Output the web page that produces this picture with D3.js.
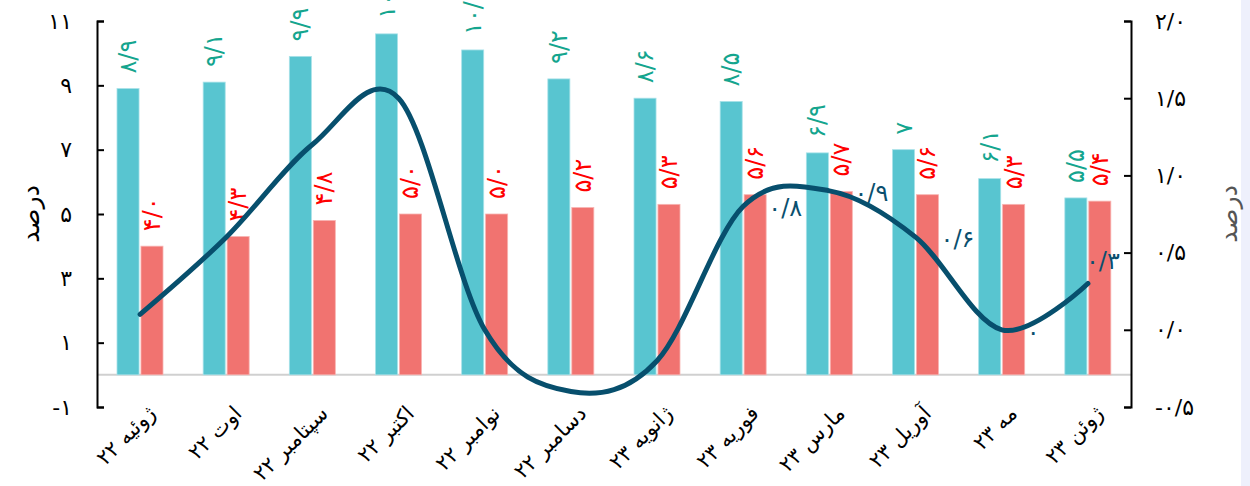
<!DOCTYPE html>
<html lang="fa">
<head>
<meta charset="utf-8">
<script src="https://cdn.jsdelivr.net/npm/d3@7"></script>
<style>
  html, body { margin: 0; padding: 0; background: #fff; }
  svg { display: block; font-family: "DejaVu Sans", sans-serif; }
</style>
</head>
<body>
<svg id="chart" width="1250" height="486"></svg>
<script>
// Monthly figures, July 2022 – June 2023
const months = ["ژوئیه ۲۲", "اوت ۲۲", "سپتامبر ۲۲", "اکتبر ۲۲", "نوامبر ۲۲", "دسامبر ۲۲",
                "ژانویه ۲۳", "فوریه ۲۳", "مارس ۲۳", "آوریل ۲۳", "مه ۲۳", "ژوئن ۲۳"];
const seriesA = [8.9, 9.1, 9.9, 10.6, 10.1, 9.2, 8.6, 8.5, 6.9, 7, 6.1, 5.5];     // left axis, teal bars
const seriesB = [4.0, 4.3, 4.8, 5.0, 5.0, 5.2, 5.3, 5.6, 5.7, 5.6, 5.3, 5.4];    // left axis, red bars
const seriesC = [0.1, 0.6, 1.2, 1.5, 0.0, -0.4, -0.2, 0.8, 0.9, 0.6, 0.0, 0.3];  // right axis, line
const leftTicks = [-1, 1, 3, 5, 7, 9, 11];
const rightTicks = [-0.5, 0, 0.5, 1.0, 1.5, 2.0];
const axisTitle = "درصد";

const faDigits = "۰۱۲۳۴۵۶۷۸۹";
const toFa = s => String(s).replace(/[0-9]/g, d => faDigits[+d]).replace(".", "/");
const fmt1 = v => toFa(v.toFixed(1));
const fmtPlain = v => toFa(v);
const fmtLine = v => v === 0 ? toFa("0") : fmt1(v);

const svg = d3.select("#chart");
const plotL = 97, plotR = 1131, plotT = 21, plotB = 407;

// Page margin strip on the far right
svg.append("rect").attr("x", 1241).attr("y", 0).attr("width", 9).attr("height", 486).attr("fill", "#eef0fc");

const x0 = d3.scaleBand().domain(months).range([plotL, plotR]).padding(0);
const x1 = d3.scaleBand().domain(["a", "b"]).range([20, 66]).paddingInner(0.08);
const yL = d3.scaleLinear().domain([-1, 11]).range([plotB, plotT]);
const yR = d3.scaleLinear().domain([-0.5, 2]).range([plotB, plotT]);

// Zero baseline
svg.append("line")
  .attr("x1", plotL).attr("x2", plotR)
  .attr("y1", yL(0)).attr("y2", yL(0))
  .attr("stroke", "#d0d0d0").attr("stroke-width", 2);

// Bars
const groups = svg.append("g").selectAll("g").data(months).join("g")
  .attr("transform", d => `translate(${x0(d)},0)`);

groups.append("rect")
  .attr("x", x1("a")).attr("width", x1.bandwidth())
  .attr("y", (d, i) => yL(seriesA[i]))
  .attr("height", (d, i) => yL(0) - yL(seriesA[i]))
  .attr("fill", "#58c5d0").attr("stroke", "#a8e2e8").attr("stroke-width", 0.8);

groups.append("rect")
  .attr("x", x1("b")).attr("width", x1.bandwidth())
  .attr("y", (d, i) => yL(seriesB[i]))
  .attr("height", (d, i) => yL(0) - yL(seriesB[i]))
  .attr("fill", "#f17370").attr("stroke", "#f8b4b2").attr("stroke-width", 0.8);

// Vertical value labels above bars
const barLabel = (key, values, color, format) => {
  groups.append("text")
    .attr("transform", (d, i) => `translate(${x1(key) + x1.bandwidth() / 2},${yL(values[i]) - 15}) rotate(-90)`)
    .attr("text-anchor", "start")
    .attr("dominant-baseline", "central")
    .attr("font-size", 24)
    .attr("letter-spacing", 2)
    .attr("fill", color)
    .text((d, i) => format(values[i]));
};
barLabel("a", seriesA, "#14a58e", fmtPlain);
barLabel("b", seriesB, "#ff0000", fmt1);

// Line on the right axis
const pts = months.map((m, i) => [x0(m) + x0.bandwidth() / 2, yR(seriesC[i])]);
svg.append("path")
  .attr("d", d3.line().curve(d3.curveCardinal.tension(0))(pts))
  .attr("fill", "none").attr("stroke", "#074f6d").attr("stroke-width", 5)
  .attr("stroke-linecap", "round").attr("stroke-linejoin", "round");

// Line value labels for the later months
const labelFrom = 7;
svg.append("g").selectAll("text")
  .data(pts.map((p, i) => ({ p, i })).filter(d => d.i >= labelFrom))
  .join("text")
  .attr("x", d => d.i === months.length - 1 ? d.p[0] - 2 : d.p[0] + 25)
  .attr("y", d => d.i === months.length - 1 ? d.p[1] - 22 : d.p[1] + 2)
  .attr("text-anchor", "start")
  .attr("dominant-baseline", "central")
  .attr("font-size", 24)
  .attr("letter-spacing", 2)
  .attr("fill", "#0a4f6e")
  .text(d => fmtLine(seriesC[d.i]));

// Axes
const axisL = d3.axisLeft(yL).tickValues(leftTicks).tickSizeInner(-7).tickSizeOuter(-7).tickPadding(25)
  .tickFormat(d => toFa(d));
const gL = svg.append("g").attr("transform", `translate(${plotL},0)`).call(axisL);
gL.select(".domain").attr("stroke", "#000").attr("stroke-width", 2);
gL.selectAll(".tick line").attr("stroke", "#000").attr("stroke-width", 2);
gL.selectAll(".tick text").attr("font-size", 22).attr("letter-spacing", 1).attr("fill", "#000").attr("font-family", "DejaVu Sans");

const axisR = d3.axisRight(yR).tickValues(rightTicks).tickSizeInner(-7).tickSizeOuter(-7).tickPadding(24)
  .tickFormat(d => fmt1(d));
const gR = svg.append("g").attr("transform", `translate(${plotR},0)`).call(axisR);
gR.select(".domain").attr("stroke", "#000").attr("stroke-width", 2);
gR.selectAll(".tick line").attr("stroke", "#000").attr("stroke-width", 2);
gR.selectAll(".tick text").attr("font-size", 22).attr("letter-spacing", 2).attr("fill", "#000").attr("font-family", "DejaVu Sans");

// Axis titles
svg.append("text")
  .attr("transform", `translate(30,${(plotT + plotB) / 2}) rotate(-90)`)
  .attr("text-anchor", "middle").attr("dominant-baseline", "central")
  .attr("font-size", 25).attr("fill", "#000").text(axisTitle);
svg.append("text")
  .attr("transform", `translate(1228,${(plotT + plotB) / 2}) rotate(-90)`)
  .attr("text-anchor", "middle").attr("dominant-baseline", "central")
  .attr("font-size", 25).attr("fill", "#555").text(axisTitle);

// Month labels
svg.append("g").selectAll("text").data(months).join("text")
  .attr("transform", d => `translate(${x0(d) + x0.bandwidth() / 2 + 6},${plotB - 3}) rotate(-45)`)
  .attr("text-anchor", "end")
  .attr("dominant-baseline", "hanging")
  .attr("font-size", 21)
  .attr("fill", "#000")
  .text(d => d);
</script>
</body>
</html>
